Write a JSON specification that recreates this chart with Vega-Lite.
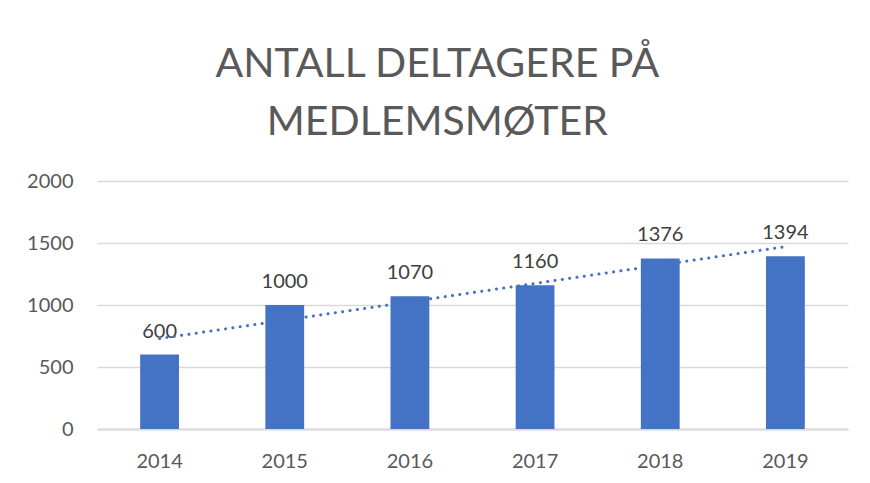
{
  "$schema": "https://vega.github.io/schema/vega-lite/v6.json",
  "autosize": "none",
  "width": 751,
  "height": 248,
  "padding": {"left": 97, "top": 181, "right": 22, "bottom": 54},
  "background": "white",
  "config": {
    "font": "Lato",
    "view": {"stroke": null}
  },
  "title": {
    "text": ["ANTALL DELTAGERE PÅ", "MEDLEMSMØTER"],
    "fontSize": 41,
    "fontWeight": "normal",
    "color": "#595959",
    "lineHeight": 58,
    "anchor": "middle",
    "frame": "bounds",
    "offset": 27
  },
  "data": {
    "values": [
      {"year": 2014, "count": 600},
      {"year": 2015, "count": 1000},
      {"year": 2016, "count": 1070},
      {"year": 2017, "count": 1160},
      {"year": 2018, "count": 1376},
      {"year": 2019, "count": 1394}
    ]
  },
  "encoding": {
    "x": {
      "field": "year",
      "type": "ordinal",
      "scale": {"paddingInner": 0.69, "paddingOuter": 0.345},
      "axis": {
        "title": null,
        "labelAngle": 0,
        "ticks": false,
        "labelPadding": 22,
        "labelFontSize": 20,
        "labelColor": "#595959",
        "domainColor": "#d9d9d9",
        "domainWidth": 2
      }
    },
    "y": {
      "field": "count",
      "type": "quantitative",
      "scale": {"domain": [0, 2000]},
      "axis": {
        "title": null,
        "format": "d",
        "values": [0, 500, 1000, 1500, 2000],
        "ticks": false,
        "domain": false,
        "labelPadding": 24,
        "labelFontSize": 20,
        "labelColor": "#595959",
        "gridColor": "#d9d9d9",
        "gridWidth": 1.3
      }
    }
  },
  "layer": [
    {"mark": {"type": "bar", "color": "#4472C4"}},
    {
      "mark": {"type": "text", "baseline": "alphabetic", "dy": -17, "fontSize": 20, "color": "#404040"},
      "encoding": {"text": {"field": "count", "type": "quantitative"}}
    },
    {
      "transform": [{"regression": "count", "on": "year"}],
      "mark": {"type": "line", "color": "#4472C4", "strokeWidth": 3, "strokeCap": "round", "strokeDash": [0.1, 7.3]},
      "encoding": {}
    }
  ]
}
